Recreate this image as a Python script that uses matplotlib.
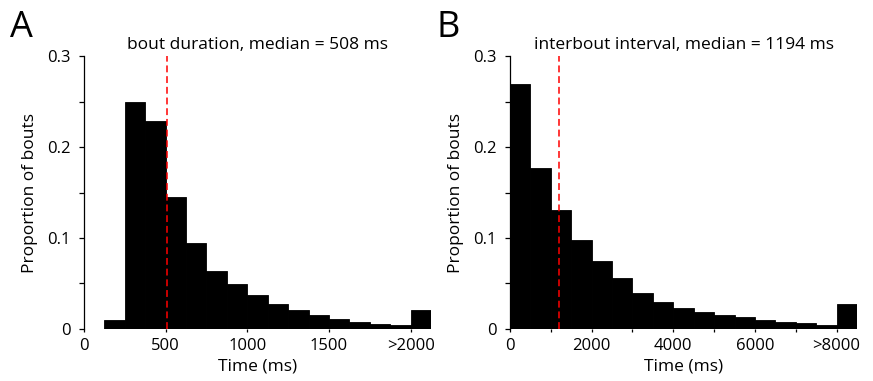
import matplotlib.pyplot as plt
from matplotlib.ticker import MultipleLocator

plt.rcParams['font.family'] = ['Open Sans', 'DejaVu Sans']

# ── data ─────────────────────────────────────────────────────────────────────
dur_edges = [0, 125, 250, 375, 500, 625, 750, 875, 1000, 1125, 1250, 1375,
             1500, 1625, 1750, 1875, 2000]
dur_props = [0.0, 0.0103, 0.250, 0.229, 0.145, 0.095, 0.064, 0.049, 0.037,
             0.027, 0.021, 0.015, 0.0114, 0.0081, 0.0059, 0.0044, 0.021]
dur_median = 508
dur_ticks = [0, 500, 1000, 1500, 2000]
dur_labels = ['0', '500', '1000', '1500', '>2000']

ibi_edges = [0, 500, 1000, 1500, 2000, 2500, 3000, 3500, 4000, 4500, 5000,
             5500, 6000, 6500, 7000, 7500, 8000]
ibi_props = [0.2696, 0.1766, 0.1311, 0.0982, 0.0751, 0.0564, 0.0399, 0.0300,
             0.0234, 0.0190, 0.0158, 0.0128, 0.0103, 0.0081, 0.0070, 0.0048,
             0.0278]
ibi_median = 1194
ibi_ticks = [0, 2000, 4000, 6000, 8000]
ibi_labels = ['0', '2000', '4000', '6000', '>8000']

fig = plt.figure(figsize=(8.73, 3.81), dpi=100)
fig.patch.set_facecolor('white')

panels = [
    (0.0962, 'A', dur_edges, dur_props, 125, dur_median, dur_ticks, dur_labels,
     250, 'bout duration, median = %d ms' % dur_median, 0.012),
    (0.5842, 'B', ibi_edges, ibi_props, 500, ibi_median, ibi_ticks, ibi_labels,
     1000, 'interbout interval, median = %d ms' % ibi_median, 0.500),
]

for left, letter, edges, props, bw, med, ticks, labels, minor, title, lx in panels:
    ax = fig.add_axes([left, 0.1365, 0.3975, 0.7165])
    ax.bar(edges, props, width=bw, align='edge', color='black',
           edgecolor='black', linewidth=0.6, zorder=2)
    ax.plot([med, med], [0, 0.3], color='#ff0000', lw=1.1,
            dashes=(4.5, 2.5), zorder=3)
    ax.set_xlim(0, edges[-1] + bw)
    ax.set_ylim(0, 0.3)

    for s in ('top', 'right', 'bottom'):
        ax.spines[s].set_visible(False)
    ax.spines['left'].set_linewidth(0.9)

    ax.set_yticks([0, 0.1, 0.2, 0.3])
    ax.set_yticklabels(['0', '0.1', '0.2', '0.3'])
    ax.yaxis.set_minor_locator(MultipleLocator(0.05))
    ax.set_xticks(ticks)
    ax.set_xticklabels(labels)
    ax.xaxis.set_minor_locator(MultipleLocator(minor))
    ax.tick_params(axis='y', which='both', direction='out', length=3.5,
                   width=0.9, pad=6, labelsize=12)
    ax.tick_params(axis='x', which='both', direction='out', length=2.5,
                   width=0.9, pad=4, labelsize=12)
    if letter == 'A':
        ax.tick_params(axis='x', which='minor', length=0)

    ax.set_ylabel('Proportion of bouts', fontsize=12.5, labelpad=7)
    ax.set_xlabel('Time (ms)', fontsize=12.5, labelpad=3)
    ax.set_title(title, fontsize=12.5, pad=5)
    fig.text(lx, 0.975, letter, fontsize=26, ha='left', va='top')

fig.savefig('out.png', dpi=100, facecolor='white')
plt.close()
